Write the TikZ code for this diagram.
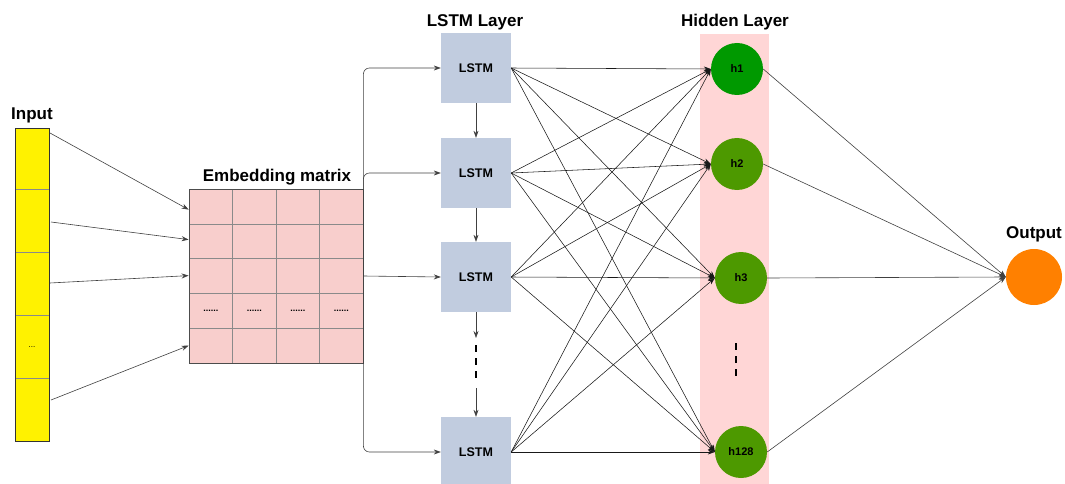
\documentclass[tikz,border=0pt]{standalone}
\usepackage{fontspec}
\setmainfont{Liberation Sans}
\usetikzlibrary{arrows.meta,calc}
\definecolor{embfill}{HTML}{F8CECC}
\definecolor{lstmfill}{HTML}{C1CCDF}
\definecolor{bandfill}{HTML}{FFD6D6}
\definecolor{hgreen}{HTML}{4D9900}
\definecolor{hgreenA}{HTML}{009900}
\definecolor{outorange}{HTML}{FF8000}
\definecolor{gridgray}{HTML}{8A8A8A}
\tikzset{
  lbl/.style={font=\fontsize{17}{20}\selectfont\bfseries},
  inpbox/.style={draw=black!80, line width=0.8pt, fill=yellow, minimum width=34pt, minimum height=313pt, inner sep=0pt},
  embbox/.style={draw=black!70, line width=0.8pt, fill=embfill, minimum width=174pt, minimum height=174pt, inner sep=0pt},
  lstmbox/.style={fill=lstmfill, minimum width=70pt, minimum height=70pt, inner sep=0pt, font=\fontsize{12.5}{14}\selectfont\bfseries},
  hid/.style={circle, fill=hgreen, minimum size=52pt, inner sep=0pt, font=\fontsize{11}{13}\selectfont\bfseries},
  conn/.style={draw=black!75, line width=0.6pt, -{Stealth[length=7pt,width=5pt]}},
  dense/.style={draw=black!90, line width=0.55pt, -{Stealth[length=7pt,width=5pt]}},
}
\begin{document}
\begin{tikzpicture}[x=1pt,y=-1pt]
\useasboundingbox (0,0) rectangle (1065,484);
% hidden band
\fill[bandfill] (700,34) rectangle (769,486);
\node[lbl] at (735,22) {Hidden Layer};
% input column
\node[inpbox] (input) at (32,284.5) {};
\foreach \yy in {189,252,315,378} \draw[gridgray, line width=0.6pt] (15.5,\yy) -- (48.5,\yy);
\node[font=\fontsize{8}{9}\selectfont] at (32,347) {...};
\node[lbl] (inlbl) at (32,115) {Input};
% embedding matrix
\node[embbox] (emb) at (276,276) {};
\foreach \yy in {223.8,258.6,293.4,328.2} \draw[gridgray, line width=0.6pt] (189.5,\yy) -- (362.5,\yy);
\foreach \xx in {232.5,276,319.5} \draw[gridgray, line width=0.6pt] (\xx,189.5) -- (\xx,362.5);
\foreach \xx in {210.75,254.25,297.75,341.25} \node[font=\fontsize{9}{10}\selectfont\bfseries] at (\xx,311) {......};
\node[lbl] (emblbl) at (277,177) {Embedding matrix};
% input -> embedding
\coordinate (i1) at (50,133);
\coordinate (i2) at (51,222);
\coordinate (i3) at (50,283);
\coordinate (i4) at (51,400);
\draw[conn] (i1) -- ($(emb.north west)+(0,21)$);
\draw[conn] (i2) -- ($(emb.north west)+(0,51)$);
\draw[conn] (i3) -- ($(emb.north west)+(0,87)$);
\draw[conn] (i4) -- ($(emb.north west)+(0,157)$);
% LSTM layer
\node[lbl] at (475,22) {LSTM Layer};
\node[lstmbox] (l1) at (476,68) {LSTM};
\node[lstmbox] (l2) at (476,173) {LSTM};
\node[lstmbox] (l3) at (476,277) {LSTM};
\node[lstmbox] (l4) at (476,452) {LSTM};
\draw[conn, rounded corners=6pt] (emb.east) |- (l1.west);
\draw[conn, rounded corners=6pt] (emb.east) |- (l2.west);
\draw[conn] (emb.east) -- (l3.west);
\draw[conn, rounded corners=6pt] (emb.east) |- (l4.west);
\draw[conn] (l1.south) -- (l2.north);
\draw[conn] (l2.south) -- (l3.north);
\coordinate (d1) at (476,338);
\coordinate (d2) at (476,345);
\coordinate (d3) at (476,381);
\coordinate (d4) at (476,388);
\draw[conn] (l3.south) -- (d1);
\draw[line width=2.5pt, dash pattern=on 7pt off 6pt] (d2) -- (d3);
\draw[conn] (d4) -- (l4.north);
% hidden nodes
\node[hid, fill=hgreenA] (h1) at (737,69) {h1};
\node[hid] (h2) at (737,164) {h2};
\node[hid] (h3) at (741,278) {h3};
\node[hid] (h4) at (741,452) {h128};
\coordinate (v1) at (736,343);
\coordinate (v2) at (736,381);
\draw[line width=2.5pt, dash pattern=on 7pt off 6pt] (v1) -- (v2);
% dense connections
\foreach \l in {l1,l2,l3,l4}
  \foreach \h in {h1,h2,h3,h4}
    \draw[dense] (\l.east) -- (\h.west);
% output
\node[circle, fill=outorange, minimum size=56pt, inner sep=0pt] (out) at (1034,277) {};
\node[lbl] at (1034,234) {Output};
\foreach \h in {h1,h2,h3,h4}
  \draw[conn] (\h.east) -- (out.west);
\end{tikzpicture}
\end{document}
